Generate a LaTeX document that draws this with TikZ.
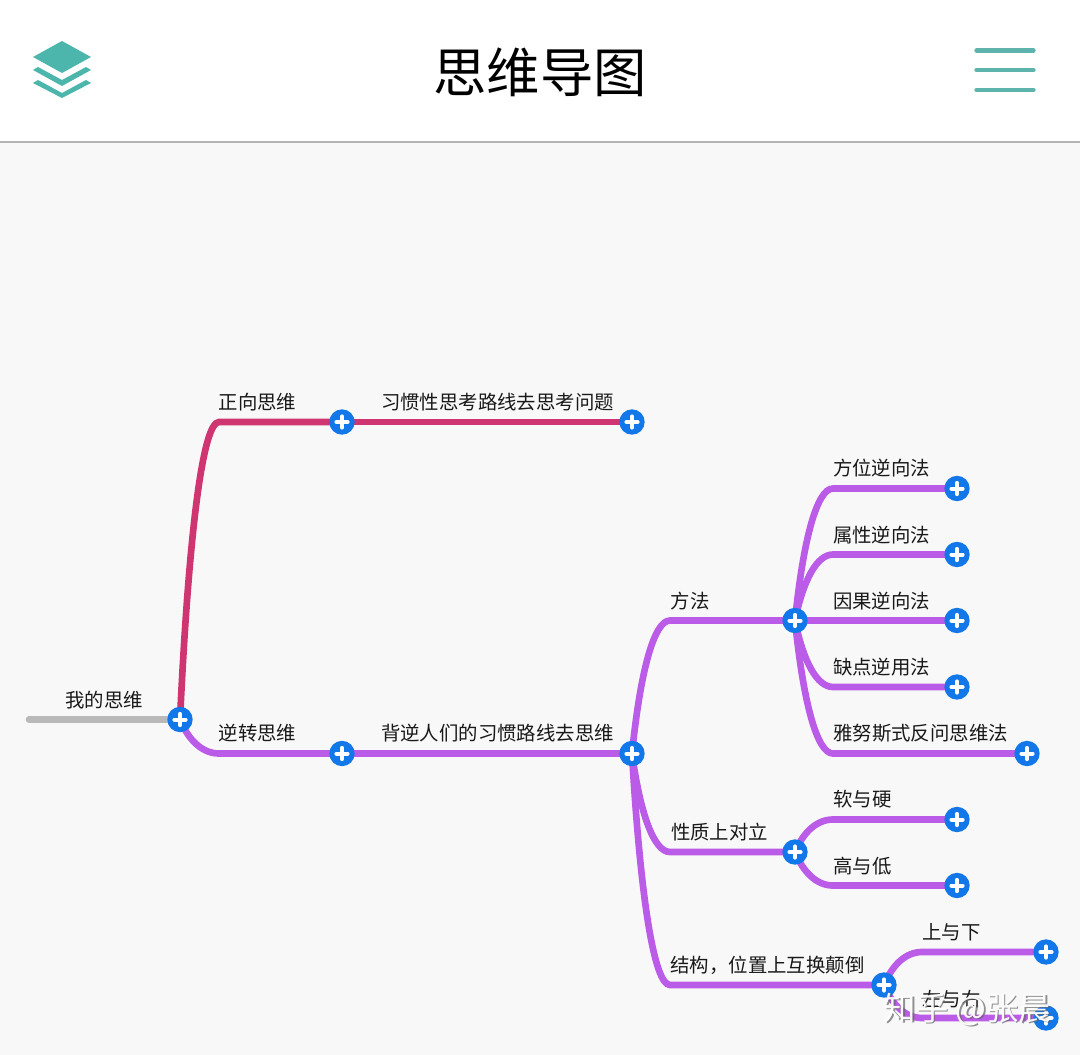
\documentclass[tikz,border=0pt]{standalone}
\usepackage{fontspec}
\setmainfont{Noto Sans CJK SC}
\usetikzlibrary{calc,backgrounds}
\definecolor{redb}{HTML}{CF3570}
\definecolor{purb}{HTML}{BB5CE8}
\definecolor{blueb}{HTML}{1277E8}
\definecolor{tealb}{HTML}{4DB6AC}
\definecolor{tealline}{HTML}{5FB3AD}
\definecolor{pagebg}{HTML}{F8F8F8}
\definecolor{rootgray}{HTML}{B9B9B9}
\definecolor{rulegray}{HTML}{B4B4B4}
\tikzset{
  expander/.style={circle,fill=blueb,draw=none,minimum size=19pt,inner sep=0pt,
    path picture={
      \draw[white,line width=3pt,line cap=round]
        ($(path picture bounding box.center)+(-4.2pt,0)$) -- ($(path picture bounding box.center)+(4.2pt,0)$)
        ($(path picture bounding box.center)+(0,-4.2pt)$) -- ($(path picture bounding box.center)+(0,4.2pt)$);
    }},
  lab/.style={inner sep=0pt,font=\fontsize{14.55pt}{16pt}\selectfont,text=black!90},
  branch/.style={line width=5pt,line cap=round},
  menuline/.style={tealline,line width=3.2pt,line cap=round},
  layer/.style={fill=tealb,draw=none}
}
% from, corner, to, colour
\newcommand{\branchto}[4]{%
  \draw[branch,#4] let \p1=(#1.center),\p2=(#2) in
    (#1.center) .. controls (\x1+0.22*\x2-0.22*\x1,\y1+0.62*\y2-0.62*\y1)
    and (\x1+0.58*\x2-0.58*\x1,\y2) .. (#2) -- (#3.center);}
\begin{document}
\begin{tikzpicture}[x=0.75pt,y=-0.75pt]
\useasboundingbox (0,0) rectangle (1080,1055);
% expander nodes
\node[expander] (n0) at (180,719.5) {};
\node[expander] (n1) at (342,422) {};
\node[expander] (n2) at (632,422) {};
\node[expander] (n3) at (342,753.5) {};
\node[expander] (n4) at (632,753.5) {};
\node[expander] (m1) at (795,620.5) {};
\node[expander] (m2) at (795,852) {};
\node[expander] (m3) at (884,985) {};
\node[expander] (a1) at (957,488.5) {};
\node[expander] (a2) at (957,554.5) {};
\node[expander] (a3) at (957,620.5) {};
\node[expander] (a4) at (957,687) {};
\node[expander] (a5) at (1027,753.5) {};
\node[expander] (b1) at (957,819.5) {};
\node[expander] (b2) at (957,885.5) {};
\node[expander] (c1) at (1046,952) {};
\node[expander] (c2) at (1046,1018) {};
% bends
\coordinate (rootstart) at (29,719.5);
\coordinate (k1) at (219,422);
\coordinate (k3) at (219,753.5);
\coordinate (km1) at (670,620.5);
\coordinate (km2) at (670,852);
\coordinate (km3) at (670,985);
\coordinate (ka1) at (833,488.5);
\coordinate (ka2) at (833,554.5);
\coordinate (ka3) at (833,620.5);
\coordinate (ka4) at (833,687);
\coordinate (ka5) at (833,753.5);
\coordinate (kb1) at (833,819.5);
\coordinate (kb2) at (833,885.5);
\coordinate (kc1) at (922,952);
\coordinate (kc2) at (922,1018);
\begin{pgfonlayer}{background}
  \fill[white] (0,0) rectangle (1080,141);
  \fill[pagebg] (0,141) rectangle (1080,1055);
  \draw[rulegray,line width=1.5pt] (0,142) -- (1080,142);
  \draw[branch,rootgray] (rootstart) -- (n0.center);
  \branchto{n0}{k1}{n1}{redb}
  \draw[branch,redb] (n1.center) -- (n2.center);
  \branchto{n0}{k3}{n3}{purb}
  \draw[branch,purb] (n3.center) -- (n4.center);
  \branchto{n4}{km1}{m1}{purb}
  \branchto{n4}{km2}{m2}{purb}
  \branchto{n4}{km3}{m3}{purb}
  \branchto{m1}{ka1}{a1}{purb}
  \branchto{m1}{ka2}{a2}{purb}
  \branchto{m1}{ka3}{a3}{purb}
  \branchto{m1}{ka4}{a4}{purb}
  \branchto{m1}{ka5}{a5}{purb}
  \branchto{m2}{kb1}{b1}{purb}
  \branchto{m2}{kb2}{b2}{purb}
  \branchto{m3}{kc1}{c1}{purb}
  \branchto{m3}{kc2}{c2}{purb}
\end{pgfonlayer}
% header
\node[inner sep=0pt,font=\fontsize{40pt}{44pt}\selectfont,text=black] (title) at (540,72.5) {思维导图};
\fill[layer] (62,41) -- (91,57) -- (62,73) -- (33,57) -- cycle;
\fill[layer] (33,70) -- (38,67) -- (62,80) -- (86,67) -- (91,70) -- (62,86) -- cycle;
\fill[layer] (33,83) -- (38,80) -- (62,93) -- (86,80) -- (91,83) -- (62,98) -- cycle;
\draw[menuline] (976.5,50.5) -- (1033.5,50.5);
\draw[menuline] (976.5,70) -- (1033.5,70);
\draw[menuline] (976.5,90) -- (1033.5,90);
% labels
\node[lab] (t0) at (104,700.5) {我的思维};
\node[lab] (t1) at (257.5,402.5) {正向思维};
\node[lab] (t2) at (497.5,402.5) {习惯性思考路线去思考问题};
\node[lab] (t3) at (257.5,733.5) {逆转思维};
\node[lab] (t4) at (497.5,733.5) {背逆人们的习惯路线去思维};
\node[lab] (t5) at (690,601.5) {方法};
\node[lab] (t6) at (719.5,832.5) {性质上对立};
\node[lab] (t7) at (767.5,965.5) {结构，位置上互换颠倒};
\node[lab] (t8) at (881.5,468.5) {方位逆向法};
\node[lab] (t9) at (881.5,535) {属性逆向法};
\node[lab] (t10) at (881.5,601.5) {因果逆向法};
\node[lab] (t11) at (881.5,667.5) {缺点逆用法};
\node[lab] (t12) at (920.5,733.5) {雅努斯式反问思维法};
\node[lab] (t13) at (862.5,799.5) {软与硬};
\node[lab] (t14) at (862.5,866.5) {高与低};
\node[lab] (t15) at (951.5,932.5) {上与下};
\node[lab] (t16) at (951.5,999) {左与右};
% watermark
\node[inner sep=0pt,font=\fontsize{24.3pt}{26pt}\selectfont,text=black!60,opacity=0.7] (wmshadow) at (969,1011) {知乎 @张晨};
\node[inner sep=0pt,font=\fontsize{24.3pt}{26pt}\selectfont,text=white,opacity=0.95] (wm) at (967.5,1009.5) {知乎 @张晨};
\end{tikzpicture}
\end{document}
